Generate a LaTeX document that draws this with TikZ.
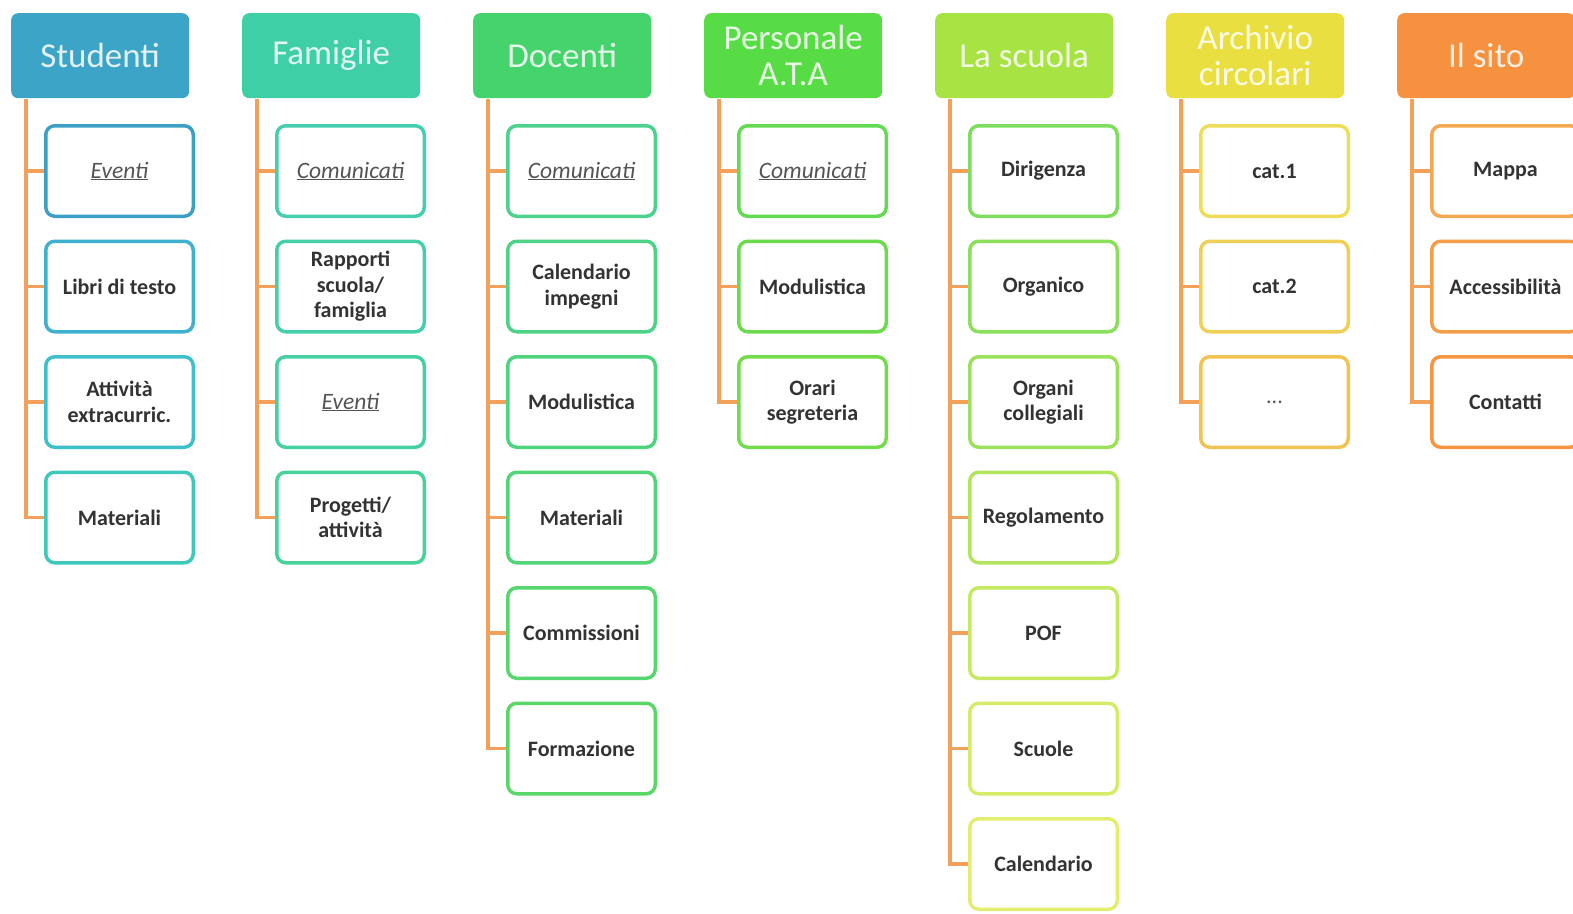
\documentclass[tikz,border=0pt]{standalone}
\usepackage{fontspec}
\setmainfont{Carlito}
\definecolor{hA}{HTML}{3CA4C6}
\definecolor{hB}{HTML}{3FCFA7}
\definecolor{hC}{HTML}{45D36B}
\definecolor{hD}{HTML}{58DC45}
\definecolor{hE}{HTML}{A6E343}
\definecolor{hF}{HTML}{E9DF40}
\definecolor{hG}{HTML}{F6923F}
\definecolor{conn}{HTML}{F3A05A}
\definecolor{txt}{HTML}{333333}
\definecolor{ltxt}{HTML}{555555}
\definecolor{ca1}{HTML}{3B9FC6}
\definecolor{ca2}{HTML}{3FB1CF}
\definecolor{ca3}{HTML}{3EC0CA}
\definecolor{ca4}{HTML}{3DC8BC}
\definecolor{cb1}{HTML}{45CFB0}
\definecolor{cb2}{HTML}{45CFA9}
\definecolor{cb3}{HTML}{45D0A1}
\definecolor{cb4}{HTML}{46D29A}
\definecolor{cc1}{HTML}{4DD28E}
\definecolor{cc2}{HTML}{4DD386}
\definecolor{cc3}{HTML}{4FD47E}
\definecolor{cc4}{HTML}{52D576}
\definecolor{cc5}{HTML}{56D66F}
\definecolor{cc6}{HTML}{5AD867}
\definecolor{cd1}{HTML}{62DA52}
\definecolor{cd2}{HTML}{6ADB4D}
\definecolor{cd3}{HTML}{74DC4B}
\definecolor{ce1}{HTML}{7EDD5E}
\definecolor{ce2}{HTML}{8ADF5B}
\definecolor{ce3}{HTML}{9CE15B}
\definecolor{ce4}{HTML}{B3E55C}
\definecolor{ce5}{HTML}{C6E962}
\definecolor{ce6}{HTML}{D5EC68}
\definecolor{ce7}{HTML}{E3EE70}
\definecolor{cf1}{HTML}{EFDC58}
\definecolor{cf2}{HTML}{F0CF57}
\definecolor{cf3}{HTML}{F1C352}
\definecolor{cg1}{HTML}{F4A851}
\definecolor{cg2}{HTML}{F59E49}
\definecolor{cg3}{HTML}{F69442}
\tikzset{
  head/.style={fill=#1, rounded corners=7pt, minimum width=178pt, minimum height=85pt,
    anchor=north west, inner sep=0pt, align=center,
    text=white!85!#1, font=\fontsize{35}{36}\selectfont},
  item/.style={draw=#1, fill=white, line width=3.5pt, rounded corners=9pt,
    minimum width=147.5pt, minimum height=90.5pt, anchor=north west, inner sep=2pt,
    align=center, text=txt, font=\bfseries\fontsize{22}{25.5}\selectfont},
  connline/.style={draw=conn, line width=3.5pt},
}
\newcommand{\lk}[1]{{\mdseries\itshape\fontsize{23.5}{26}\selectfont\color{ltxt}\underline{#1}}}
\begin{document}
\begin{tikzpicture}[x=1pt,y=-1pt]
\useasboundingbox (0,0) rectangle (1573,913);
\fill[white] (0,0) rectangle (1573,913);
\clip (0,0) rectangle (1573,913);
% headers
\node[head=hA] (hA) at (11,13) {Studenti};
\node[head=hB] (hB) at (242,13) {Famiglie};
\node[head=hC] (hC) at (473,13) {Docenti};
\node[head=hD] (hD) at (704,13) {Personale\\A.T.A};
\node[head=hE] (hE) at (935,13) {La scuola};
\node[head=hF] (hF) at (1166,13) {Archivio\\circolari};
\node[head=hG] (hG) at (1397,13) {Il sito};
% trunk start coordinates
\coordinate (tA) at ([xshift=15pt,yshift=-1pt]hA.south west);
\coordinate (tB) at ([xshift=15pt,yshift=-1pt]hB.south west);
\coordinate (tC) at ([xshift=15pt,yshift=-1pt]hC.south west);
\coordinate (tD) at ([xshift=15pt,yshift=-1pt]hD.south west);
\coordinate (tE) at ([xshift=15pt,yshift=-1pt]hE.south west);
\coordinate (tF) at ([xshift=15pt,yshift=-1pt]hF.south west);
\coordinate (tG) at ([xshift=15pt,yshift=-1pt]hG.south west);
% Studenti
\node[item=ca1] (a1) at (44,124) {\lk{Eventi}};
\node[item=ca2] (a2) at (44,239.5) {Libri di testo};
\node[item=ca3] (a3) at (44,355) {Attività\\extracurric.};
\node[item=ca4] (a4) at (44,470.5) {Materiali};
% Famiglie
\node[item=cb1] (b1) at (275,124) {\lk{Comunicati}};
\node[item=cb2] (b2) at (275,239.5) {Rapporti\\scuola/\\famiglia};
\node[item=cb3] (b3) at (275,355) {\lk{Eventi}};
\node[item=cb4] (b4) at (275,470.5) {Progetti/\\attività};
% Docenti
\node[item=cc1] (c1) at (506,124) {\lk{Comunicati}};
\node[item=cc2] (c2) at (506,239.5) {Calendario\\impegni};
\node[item=cc3] (c3) at (506,355) {Modulistica};
\node[item=cc4] (c4) at (506,470.5) {Materiali};
\node[item=cc5] (c5) at (506,586) {Commissioni};
\node[item=cc6] (c6) at (506,701.5) {Formazione};
% Personale
\node[item=cd1] (d1) at (737,124) {\lk{Comunicati}};
\node[item=cd2] (d2) at (737,239.5) {Modulistica};
\node[item=cd3] (d3) at (737,355) {Orari\\segreteria};
% La scuola
\node[item=ce1] (e1) at (968,124) {Dirigenza};
\node[item=ce2] (e2) at (968,239.5) {Organico};
\node[item=ce3] (e3) at (968,355) {Organi\\collegiali};
\node[item=ce4] (e4) at (968,470.5) {Regolamento};
\node[item=ce5] (e5) at (968,586) {POF};
\node[item=ce6] (e6) at (968,701.5) {Scuole};
\node[item=ce7] (e7) at (968,817) {Calendario};
% Archivio
\node[item=cf1] (f1) at (1199,124) {cat.1};
\node[item=cf2] (f2) at (1199,239.5) {cat.2};
\node[item=cf3] (f3) at (1199,355) {\mdseries\color{ltxt}...};
% Il sito
\node[item=cg1] (g1) at (1430,124) {Mappa};
\node[item=cg2] (g2) at (1430,239.5) {Accessibilità};
\node[item=cg3] (g3) at (1430,355) {Contatti};
% connectors
\begin{scope}[connline]
\draw (tA) |- (a4.west);
\foreach \n in {a1,a2,a3} \draw (\n.west -| tA) -- (\n.west);
\draw (tB) |- (b4.west);
\foreach \n in {b1,b2,b3} \draw (\n.west -| tB) -- (\n.west);
\draw (tC) |- (c6.west);
\foreach \n in {c1,c2,c3,c4,c5} \draw (\n.west -| tC) -- (\n.west);
\draw (tD) |- (d3.west);
\foreach \n in {d1,d2} \draw (\n.west -| tD) -- (\n.west);
\draw (tE) |- (e7.west);
\foreach \n in {e1,e2,e3,e4,e5,e6} \draw (\n.west -| tE) -- (\n.west);
\draw (tF) |- (f3.west);
\foreach \n in {f1,f2} \draw (\n.west -| tF) -- (\n.west);
\draw (tG) |- (g3.west);
\foreach \n in {g1,g2} \draw (\n.west -| tG) -- (\n.west);
\end{scope}
\end{tikzpicture}
\end{document}
